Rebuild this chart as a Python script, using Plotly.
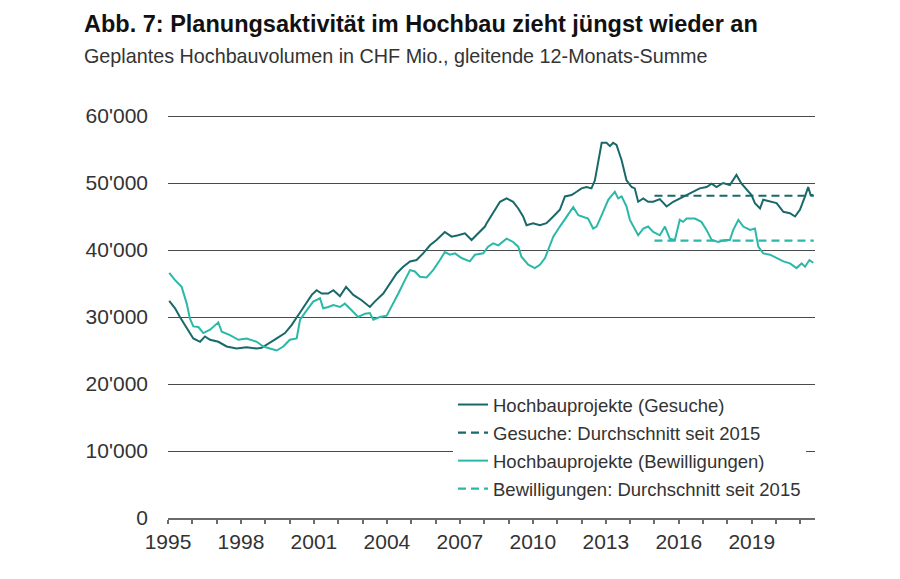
import plotly.graph_objects as go

# ---- data (CHF Mio., in thousands) ----
ges_years = [1995.05, 1995.29, 1995.49, 1995.7, 1995.9, 1996.04, 1996.32, 1996.52, 1996.73, 1997.07,
             1997.41, 1997.82, 1998.23, 1998.65, 1998.85, 1999.19, 1999.47, 1999.81, 2000.08, 2000.36,
             2000.63, 2000.91, 2001.11, 2001.32, 2001.58, 2001.8, 2002.07, 2002.32, 2002.62, 2002.96,
             2003.3, 2003.5, 2003.85, 2004.12, 2004.4, 2004.67, 2004.95, 2005.22, 2005.49, 2005.77,
             2006.04, 2006.38, 2006.66, 2006.93, 2007.21, 2007.48, 2007.82, 2008.03, 2008.1, 2008.37,
             2008.65, 2008.92, 2009.19, 2009.4, 2009.6, 2009.74, 2010.01, 2010.29, 2010.56, 2010.84,
             2011.11, 2011.32, 2011.59, 2011.8, 2012.0, 2012.21, 2012.41, 2012.55, 2012.69, 2012.83,
             2013.03, 2013.17, 2013.3, 2013.44, 2013.65, 2013.85, 2014.06, 2014.19, 2014.33, 2014.54,
             2014.74, 2014.95, 2015.22, 2015.5, 2015.77, 2016.04, 2016.32, 2016.59, 2016.86, 2017.14,
             2017.35, 2017.55, 2017.82, 2018.1, 2018.37, 2018.58, 2018.79, 2018.99, 2019.13, 2019.34,
             2019.47, 2019.75, 2020.02, 2020.3, 2020.57, 2020.78, 2020.98, 2021.19, 2021.32, 2021.42,
             2021.53]
ges_values = [32.4, 31.3, 30.0, 28.8, 27.8, 26.8, 26.3, 27.1, 26.6, 26.3,
              25.6, 25.3, 25.5, 25.3, 25.4, 26.1, 26.8, 27.6, 28.8, 30.3,
              31.8, 33.3, 34.0, 33.5, 33.5, 34.0, 33.1, 34.5, 33.3, 32.5,
              31.5, 32.3, 33.5, 35.0, 36.5, 37.5, 38.3, 38.5, 39.5, 40.7,
              41.5, 42.7, 42.0, 42.2, 42.5, 41.5, 42.8, 43.5, 44.0, 45.5,
              47.2, 47.7, 47.2, 46.2, 45.0, 43.7, 44.0, 43.7, 44.0, 45.0,
              46.0, 48.0, 48.2, 48.7, 49.2, 49.4, 49.2, 50.4, 53.4, 56.0,
              56.0, 55.5, 56.0, 55.7, 53.4, 50.4, 49.4, 49.2, 47.2, 47.7,
              47.2, 47.2, 47.6, 46.5, 47.2, 47.7, 48.2, 48.7, 49.2, 49.4,
              49.9, 49.4, 50.0, 49.7, 51.2, 49.9, 49.0, 48.2, 47.0, 46.2,
              47.5, 47.2, 47.0, 45.7, 45.5, 45.0, 46.0, 48.0, 49.4, 48.2,
              48.2]

bew_years = [1995.05, 1995.29, 1995.56, 1995.77, 1995.9, 1996.04, 1996.25, 1996.45, 1996.73, 1997.07,
             1997.21, 1997.55, 1997.89, 1998.23, 1998.65, 1998.92, 1999.19, 1999.47, 1999.74, 2000.01,
             2000.29, 2000.43, 2000.7, 2000.97, 2001.25, 2001.38, 2001.59, 2001.8, 2002.07, 2002.27,
             2002.55, 2002.82, 2003.1, 2003.3, 2003.44, 2003.71, 2003.99, 2004.19, 2004.47, 2004.74,
             2004.95, 2005.15, 2005.36, 2005.63, 2005.9, 2006.18, 2006.38, 2006.59, 2006.8, 2007.07,
             2007.41, 2007.62, 2007.96, 2008.16, 2008.37, 2008.58, 2008.92, 2009.19, 2009.4, 2009.53,
             2009.81, 2010.08, 2010.29, 2010.5, 2010.63, 2010.84, 2011.11, 2011.39, 2011.66, 2011.87,
             2012.07, 2012.27, 2012.48, 2012.62, 2012.83, 2013.1, 2013.37, 2013.51, 2013.65, 2013.85,
             2013.99, 2014.19, 2014.33, 2014.54, 2014.74, 2014.95, 2015.22, 2015.43, 2015.63, 2015.84,
             2016.04, 2016.18, 2016.32, 2016.66, 2016.93, 2017.14, 2017.35, 2017.62, 2017.9, 2018.1,
             2018.24, 2018.45, 2018.65, 2018.93, 2019.13, 2019.27, 2019.47, 2019.75, 2020.02, 2020.3,
             2020.57, 2020.84, 2021.05, 2021.19, 2021.37, 2021.53]
bew_values = [36.6, 35.5, 34.5, 32.0, 29.8, 28.6, 28.5, 27.6, 28.1, 29.2,
              27.8, 27.3, 26.6, 26.8, 26.3, 25.6, 25.3, 25.0, 25.6, 26.6,
              26.8, 29.6, 31.0, 32.3, 32.8, 31.3, 31.5, 31.8, 31.5, 32.0,
              31.0, 30.0, 30.5, 30.6, 29.6, 30.0, 30.2, 31.5, 33.5, 35.5,
              37.0, 36.8, 36.0, 35.9, 37.0, 38.5, 39.7, 39.3, 39.5, 38.8,
              38.3, 39.3, 39.5, 40.5, 41.0, 40.7, 41.7, 41.2, 40.5, 39.0,
              37.8, 37.3, 37.8, 38.8, 40.0, 42.0, 43.5, 45.0, 46.4, 45.2,
              45.0, 44.7, 43.2, 43.5, 45.2, 47.5, 48.7, 47.7, 48.0, 46.5,
              44.5, 43.2, 42.2, 43.2, 43.5, 42.7, 42.2, 43.5, 41.7, 41.5,
              44.5, 44.2, 44.7, 44.7, 44.2, 43.0, 41.5, 41.2, 41.5, 41.5,
              43.0, 44.5, 43.5, 43.0, 43.2, 40.5, 39.5, 39.3, 38.8, 38.3,
              38.0, 37.3, 38.0, 37.5, 38.5, 38.1]

avg_years = [2015.0, 2021.55]
ges_avg = 48.1
bew_avg = 41.4

y_ticks = [0, 10000, 20000, 30000, 40000, 50000, 60000]
y_labels = ["0", "10'000", "20'000", "30'000", "40'000", "50'000", "60'000"]
x_ticks = list(range(1995, 2022))
x_labels = [str(y) if (y - 1995) % 3 == 0 else "" for y in x_ticks]

names = ["Hochbauprojekte (Gesuche)", "Gesuche: Durchschnitt seit 2015",
         "Hochbauprojekte (Bewilligungen)", "Bewilligungen: Durchschnitt seit 2015"]

DARK = "#19686a"
LIGHT = "#2bb8a8"

fig = go.Figure()
fig.add_trace(go.Scatter(x=ges_years, y=[v * 1000 for v in ges_values], mode="lines",
                         name=names[0], legendgroup="a",
                         line=dict(color=DARK, width=2)))
fig.add_trace(go.Scatter(x=avg_years, y=[ges_avg * 1000] * 2, mode="lines",
                         name=names[1], legendgroup="b",
                         line=dict(color=DARK, width=2.2, dash="8px,5px")))
fig.add_trace(go.Scatter(x=bew_years, y=[v * 1000 for v in bew_values], mode="lines",
                         name=names[2], legendgroup="c",
                         line=dict(color=LIGHT, width=2)))
fig.add_trace(go.Scatter(x=avg_years, y=[bew_avg * 1000] * 2, mode="lines",
                         name=names[3], legendgroup="d",
                         line=dict(color=LIGHT, width=2.2, dash="8px,5px")))

FONT = "Liberation Sans, Arial, sans-serif"

# plot area (figure coords): left 160, right 807, y=60000 at 108, y=0 at 510
L, R, T0, B0 = 160, 807, 108, 510
PW, PH = R - L, B0 - T0
YMAX = 60300
top_px = B0 - PH * YMAX / 60000
PH_full = B0 - top_px

fig.update_layout(
    width=900, height=579,
    margin=dict(l=L, r=900 - R, t=top_px, b=579 - B0),
    paper_bgcolor="white", plot_bgcolor="white",
    font=dict(family=FONT, color="#333333"),
    showlegend=True,
    legend=dict(x=(445 - L) / PW, y=(B0 - 378) / PH_full, xanchor="left", yanchor="top",
                bgcolor="white", borderwidth=0, font=dict(size=18.5, color="#333333"),
                tracegroupgap=1, itemwidth=30),
    annotations=[
        dict(text="<b>Abb. 7: Planungsaktivität im Hochbau zieht jüngst wieder an</b>",
             xref="paper", yref="paper", x=-(L - 74) / PW, y=(B0 - 0.5) / PH_full,
             xanchor="left", yanchor="top", showarrow=False,
             font=dict(size=23.5, color="#111111", family=FONT)),
        dict(text="Geplantes Hochbauvolumen in CHF Mio., gleitende 12-Monats-Summe",
             xref="paper", yref="paper", x=-(L - 74) / PW, y=(B0 - 47.5) / PH_full,
             xanchor="left", yanchor="middle", showarrow=False,
             font=dict(size=19.75, color="#333333", family=FONT)),
    ],
)

fig.update_xaxes(range=[1995, 2021.6], tickmode="array", tickvals=x_ticks, ticktext=x_labels,
                 showgrid=False, zeroline=False, showline=True, linecolor="#6b6b6b", linewidth=2,
                 ticks="outside", ticklen=4, tickwidth=1.5, tickcolor="#6b6b6b",
                 tickfont=dict(size=21, color="#333333"))
fig.update_yaxes(range=[0, YMAX], tickmode="array", tickvals=y_ticks, ticktext=y_labels,
                 showgrid=True, gridcolor="#4a4a4a", gridwidth=1.3, zeroline=False,
                 showline=False, ticks="", ticklabelstandoff=19,
                 tickfont=dict(size=21, color="#333333"))

fig.write_html("out.html")
